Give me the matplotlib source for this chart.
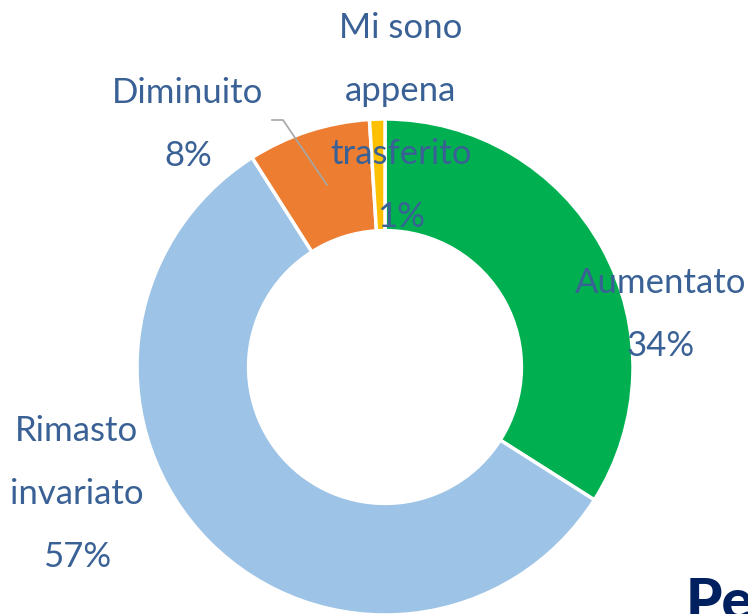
import matplotlib.pyplot as plt

# data
categories = ["Aumentato", "Rimasto\ninvariato", "Diminuito", "Mi sono\nappena\ntrasferito"]
values = [34, 57, 8, 1]
colors = ["#00B050", "#9DC3E6", "#ED7D31", "#FFC000"]

W, H = 748, 614
fig = plt.figure(figsize=(W / 100, H / 100), dpi=100)
ax = fig.add_axes([0, 0, 1, 1])

cx, cy, r = 385, H - 367, 248
ax.pie(values, colors=colors, startangle=90, counterclock=False,
       center=(cx, cy), radius=r,
       wedgeprops=dict(width=r * 0.45, edgecolor="white", linewidth=2.5))
ax.set_xlim(0, W)
ax.set_ylim(0, H)
ax.set_aspect("auto")
ax.axis("off")

# label placement (pixel coords from top): x centre, y of first line
label_pos = [(661, 283), (77, 431), (188, 93), (401, 28)]
step = 63
txt_color = "#3A6195"
for cat, val, (lx, ly) in zip(categories, values, label_pos):
    lines = cat.split("\n") + [f"{val}%"]
    for i, line in enumerate(lines):
        ax.text(lx, H - (ly + i * step), line, ha="center", va="center",
                fontsize=25, color=txt_color, family=["Lato", "DejaVu Sans"])

# leader line for Diminuito
ax.plot([272, 283, 327], [H - 120, H - 120, H - 185], color="#A6A6A6", lw=1.2)

# cut-off title in the corner
ax.text(686, H - 620, "Pe", ha="left", va="baseline", fontsize=42,
        fontweight="black", color="#002060", family=["Lato", "DejaVu Sans"])

fig.savefig("out.png", dpi=100)
